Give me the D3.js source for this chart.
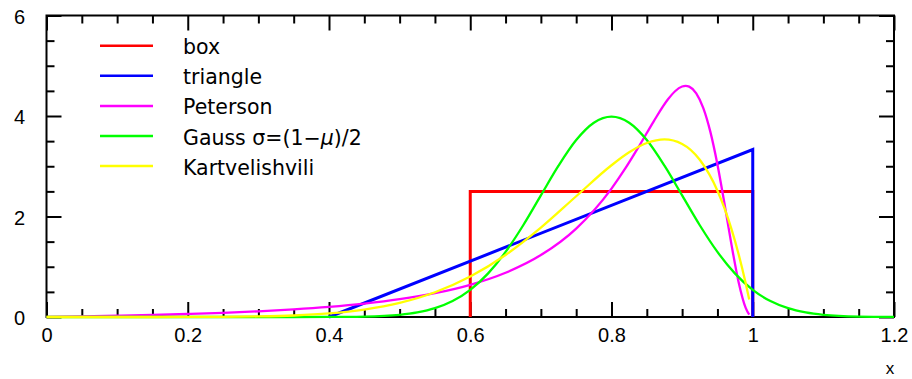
<!DOCTYPE html>
<html>
<head>
<meta charset="utf-8">
<script src="https://cdn.jsdelivr.net/npm/d3@7"></script>
<style>
  html, body { margin: 0; padding: 0; background: #fff; }
  svg { display: block; }
</style>
</head>
<body>
<div id="chart"></div>
<script>
// ---- data ----
const seriesNames = ["box", "triangle", "Peterson", "Gauss σ=(1−μ)/2", "Kartvelishvili"];
const seriesColors = ["#ff0000", "#0000ff", "#ff00ff", "#00ff00", "#ffff00"];

const xMajorTicks = [0, 0.2, 0.4, 0.6, 0.8, 1, 1.2];
const yMajorTicks = [0, 2, 4, 6];

const boxX = [0.6, 0.6, 1.0, 1.0];
const boxY = [0, 2.5, 2.5, 0];

const triangleX = [0.4, 1.0, 1.0];
const triangleY = [0, 3.333, 0];

const petersonX = [0, 0.05, 0.1, 0.15, 0.2, 0.25, 0.3, 0.35, 0.4, 0.45, 0.5, 0.55, 0.6, 0.65, 0.7, 0.75, 0.8,
                   0.82, 0.84, 0.86, 0.88, 0.89, 0.9, 0.905, 0.91, 0.92, 0.93, 0.94, 0.95, 0.96, 0.97, 0.98, 0.99, 0.995];
const petersonY = [0, 0.012, 0.025, 0.040, 0.060, 0.083, 0.113, 0.152, 0.202, 0.267, 0.354, 0.474, 0.641, 0.880, 1.232, 1.760, 2.556,
                   2.966, 3.423, 3.900, 4.332, 4.493, 4.587, 4.600, 4.584, 4.452, 4.158, 3.684, 3.035, 2.253, 1.430, 0.693, 0.182, 0.046];

const gaussX = [0, 0.1, 0.2, 0.25, 0.3, 0.35, 0.4, 0.45, 0.5, 0.525, 0.55, 0.575, 0.6, 0.625, 0.65, 0.675, 0.7, 0.725, 0.75, 0.775, 0.8,
                0.825, 0.85, 0.875, 0.9, 0.925, 0.95, 0.975, 1.0, 1.025, 1.05, 1.075, 1.1, 1.15, 1.2];
const gaussY = [0, 0, 0, 0, 0.00001, 0.0002, 0.0013, 0.0087, 0.044, 0.091, 0.175, 0.317, 0.540, 0.863, 1.295, 1.826, 2.420, 3.011, 3.521, 3.866, 3.989,
                3.866, 3.521, 3.011, 2.420, 1.826, 1.295, 0.863, 0.540, 0.317, 0.175, 0.091, 0.044, 0.0087, 0.0013];

const kartX = [0, 0.1, 0.15, 0.2, 0.25, 0.3, 0.35, 0.4, 0.45, 0.5, 0.55, 0.6, 0.65, 0.7, 0.75, 0.8, 0.825, 0.85, 0.875,
               0.9, 0.925, 0.95, 0.96, 0.97, 0.98, 0.99, 0.995];
const kartY = [0, 0.000007, 0.0001, 0.0007, 0.0033, 0.011, 0.030, 0.071, 0.148, 0.281, 0.493, 0.806, 1.235, 1.779, 2.403, 3.020, 3.278, 3.462, 3.534,
               3.444, 3.129, 2.514, 2.164, 1.745, 1.250, 0.671, 0.348];

const seriesX = [boxX, triangleX, petersonX, gaussX, kartX];
const seriesY = [boxY, triangleY, petersonY, gaussY, kartY];
const seriesWidth = [3, 3, 2.3, 2.3, 2.3];

// ---- layout ----
const W = 912, H = 379;
const L = 46.5, R = 894, T = 15.5, B = 317;

const svg = d3.select("#chart").append("svg").attr("width", W).attr("height", H);

const x = d3.scaleLinear().domain([0, 1.2]).range([L, R]);
const y = d3.scaleLinear().domain([0, 6]).range([B, T]);

const xMinor = d3.range(0, 1.2001, 0.05).filter(v => !xMajorTicks.some(m => Math.abs(m - v) < 1e-6));
const yMinor = d3.range(0, 6.001, 0.5).filter(v => !yMajorTicks.some(m => Math.abs(m - v) < 1e-6));

const fmt = d3.format("~g");
const axes = svg.append("g").attr("class", "axes");

function styleAxis(g) {
  g.select(".domain").remove();
  g.selectAll(".tick line").attr("stroke", "#000").attr("stroke-width", 2);
}
// bottom
axes.append("g").attr("transform", `translate(0,${B})`)
  .call(d3.axisBottom(x).tickValues(xMajorTicks).tickSize(-15).tickPadding(10.5).tickFormat(fmt))
  .call(styleAxis)
  .call(g => g.selectAll("text").attr("font-family", "'Liberation Sans', Arial, sans-serif")
        .attr("font-size", 20).attr("fill", "#000"));
axes.append("g").attr("transform", `translate(0,${B})`)
  .call(d3.axisBottom(x).tickValues(xMinor).tickSize(-8).tickFormat(""))
  .call(styleAxis);
// top
axes.append("g").attr("transform", `translate(0,${T})`)
  .call(d3.axisTop(x).tickValues(xMajorTicks).tickSize(-15).tickFormat(""))
  .call(styleAxis);
axes.append("g").attr("transform", `translate(0,${T})`)
  .call(d3.axisTop(x).tickValues(xMinor).tickSize(-8).tickFormat(""))
  .call(styleAxis);
// left
axes.append("g").attr("transform", `translate(${L},0)`)
  .call(d3.axisLeft(y).tickValues(yMajorTicks).tickSize(-15).tickPadding(21.5).tickFormat(fmt))
  .call(styleAxis)
  .call(g => g.selectAll("text").attr("font-family", "'Liberation Sans', Arial, sans-serif")
        .attr("font-size", 20).attr("fill", "#000").attr("dy", "0.38em"));
axes.append("g").attr("transform", `translate(${L},0)`)
  .call(d3.axisLeft(y).tickValues(yMinor).tickSize(-8).tickFormat(""))
  .call(styleAxis);
// right
axes.append("g").attr("transform", `translate(${R},0)`)
  .call(d3.axisRight(y).tickValues(yMajorTicks).tickSize(-15).tickFormat(""))
  .call(styleAxis);
axes.append("g").attr("transform", `translate(${R},0)`)
  .call(d3.axisRight(y).tickValues(yMinor).tickSize(-8).tickFormat(""))
  .call(styleAxis);

// frame
svg.append("rect").attr("x", L).attr("y", T).attr("width", R - L).attr("height", B - T)
  .attr("fill", "none").attr("stroke", "#000").attr("stroke-width", 2);

// x axis title
svg.append("text").attr("x", x(1.2) - 4).attr("y", 374).attr("text-anchor", "middle")
  .attr("font-family", "'Liberation Sans', Arial, sans-serif").attr("font-size", 17).text("x");

// curves
const straight = d3.line().x(d => x(d[0])).y(d => y(d[1])).curve(d3.curveLinear);
const smooth = d3.line().x(d => x(d[0])).y(d => y(d[1])).curve(d3.curveMonotoneX);

seriesX.forEach((xs, i) => {
  const pts = xs.map((v, j) => [v, seriesY[i][j]]);
  svg.append("path")
    .attr("d", (i < 2 ? straight : smooth)(pts))
    .attr("fill", "none")
    .attr("stroke", seriesColors[i])
    .attr("stroke-width", seriesWidth[i])
    .attr("stroke-linejoin", "miter");
});

// legend
const legend = svg.append("g").attr("font-family", "'DejaVu Sans', sans-serif").attr("font-size", 20.5);
seriesNames.forEach((name, i) => {
  const ly = 45.7 + i * 30.1;
  legend.append("line").attr("x1", 100).attr("x2", 153).attr("y1", ly).attr("y2", ly)
    .attr("stroke", seriesColors[i]).attr("stroke-width", 2.5);
  const t = legend.append("text").attr("x", 183).attr("y", ly + 8.5).attr("fill", "#000");
  if (name.includes("μ")) {
    const parts = name.split("μ");
    t.append("tspan").text(parts[0]);
    t.append("tspan").attr("font-style", "italic").text("μ");
    t.append("tspan").text(parts[1]);
  } else {
    t.text(name);
  }
});
</script>
</body>
</html>
